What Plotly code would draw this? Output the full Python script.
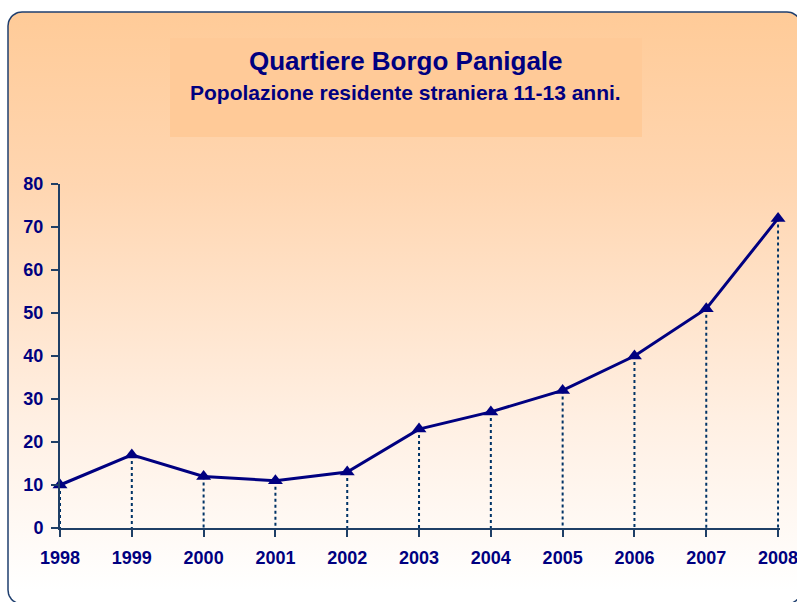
import numpy as np
import plotly.graph_objects as go

# ---- data ----
years = [1998, 1999, 2000, 2001, 2002, 2003, 2004, 2005, 2006, 2007, 2008]
values = [10, 17, 12, 11, 13, 23, 27, 32, 40, 51, 72]
y_ticks = [0, 10, 20, 30, 40, 50, 60, 70, 80]
title_main = "Quartiere Borgo Panigale"
title_sub = "Popolazione residente straniera 11-13 anni."

W, H = 797, 602
NAVY = "#000080"
AXIS = "#1F3F66"
FONT = "Arial, Liberation Sans, sans-serif"

# rounded background box (pixel coordinates on a helper axis)
bx0, by0, bx1, by1, r = 8, 12, 801, 604, 14
def arc(cx, cy, a0, a1):
    t = np.linspace(a0, a1, 12)
    return list(cx + r * np.cos(t)), list(cy + r * np.sin(t))
xs, ys = [], []
for cx, cy, a0, a1 in [(bx0 + r, by0 + r, np.pi, 1.5 * np.pi),
                       (bx1 - r, by0 + r, 1.5 * np.pi, 2 * np.pi),
                       (bx1 - r, by1 - r, 0, 0.5 * np.pi),
                       (bx0 + r, by1 - r, 0.5 * np.pi, np.pi)]:
    ax, ay = arc(cx, cy, a0, a1)
    xs += ax; ys += ay
xs.append(xs[0]); ys.append(ys[0])

fig = go.Figure()
fig.add_trace(go.Scatter(
    x=xs, y=ys, mode="lines", fill="toself",
    line=dict(color="#1F3F6F", width=1.5),
    fillgradient=dict(type="vertical", start=12, stop=590,
                      colorscale=[[0, "#FFCB98"], [0.3, "#FFD6B1"], [0.7, "#FFEFE2"], [1, "#FFFFFF"]]),
    hoverinfo="skip", showlegend=False, xaxis="x", yaxis="y"))

# drop lines
dx, dy = [], []
for yr, v in zip(years, values):
    dx += [yr, yr, None]
    dy += [v, 0, None]
fig.add_trace(go.Scatter(x=dx, y=dy, mode="lines",
                         line=dict(color="#003366", width=2, dash="3px,3px"),
                         cliponaxis=False,
                         hoverinfo="skip", showlegend=False, xaxis="x2", yaxis="y2"))
fig.add_trace(go.Scatter(x=years, y=values, mode="lines+markers",
                         line=dict(color=NAVY, width=3),
                         marker=dict(symbol="triangle-up", size=13, color=NAVY),
                         cliponaxis=False, showlegend=False, xaxis="x2", yaxis="y2"))

px_l, px_r, py_t, py_b = 60, 779.5, 184, 528
fig.update_layout(
    width=W, height=H, margin=dict(l=0, r=0, t=0, b=0, autoexpand=False),
    showlegend=False,
    paper_bgcolor="white", plot_bgcolor="rgba(0,0,0,0)",
    xaxis=dict(domain=[0, 1], range=[0, W], visible=False, fixedrange=True, automargin=False),
    yaxis=dict(domain=[0, 1], range=[H, 0], visible=False, fixedrange=True, automargin=False),
    xaxis2=dict(domain=[px_l / W, px_r / W], range=[1998, 2008.02], anchor="y2", automargin=False,
                tickmode="array", tickvals=years, ticktext=[str(y) for y in years],
                ticks="outside", ticklen=7, tickcolor=AXIS, tickwidth=2,
                ticklabelstandoff=5, ticklabeloverflow="allow",
                showline=True, linecolor=AXIS, linewidth=2, showgrid=False, zeroline=False,
                tickfont=dict(family=FONT, size=18, color=NAVY, weight="bold")),
    yaxis2=dict(domain=[(H - py_b) / H, (H - py_t) / H], range=[0, 80], anchor="x2", automargin=False,
                tickmode="array", tickvals=y_ticks,
                ticks="outside", ticklen=7, tickcolor=AXIS, tickwidth=2,
                ticklabelstandoff=4, ticklabeloverflow="allow",
                showline=True, linecolor=AXIS, linewidth=2, showgrid=False, zeroline=False,
                tickfont=dict(family=FONT, size=18, color=NAVY, weight="bold")),
    shapes=[dict(type="rect", xref="x", yref="y", x0=170, x1=642, y0=38, y1=137,
                 fillcolor="#FFCA98", line=dict(width=0), layer="above")],
    annotations=[
        dict(text="<b>" + title_main + "</b>", xref="x", yref="y", x=406, y=61,
             showarrow=False, font=dict(family=FONT, size=26, color=NAVY)),
        dict(text="<b>" + title_sub + "</b>", xref="x", yref="y", x=405, y=92,
             showarrow=False, font=dict(family=FONT, size=21, color=NAVY)),
    ],
)
fig.write_html("out.html", config={"displayModeBar": False},
               post_script="document.body.style.margin='0px';")
